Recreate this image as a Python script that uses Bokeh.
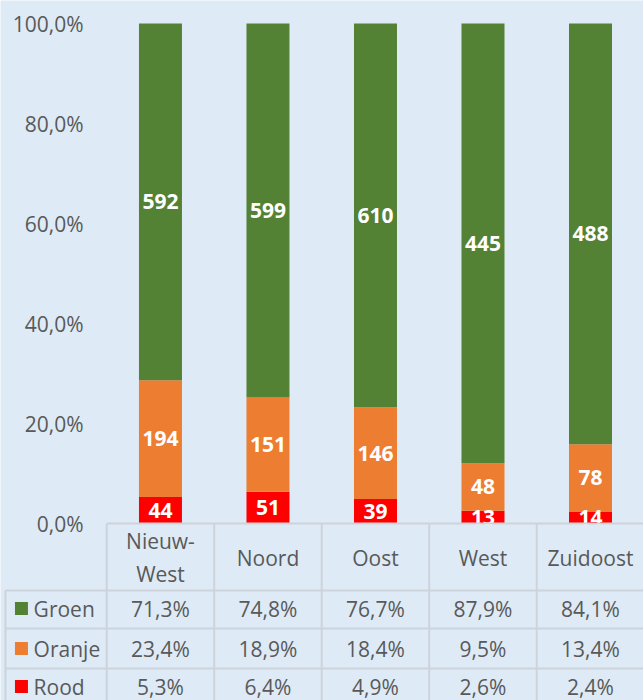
from bokeh.plotting import figure
from bokeh.models import Range1d
from bokeh.embed import file_html
from bokeh.resources import INLINE
from bokeh.core.properties import value

# ---------------- data ----------------
districts = ["Nieuw-\nWest", "Noord", "Oost", "West", "Zuidoost"]
series = ["Groen", "Oranje", "Rood"]
groen_n = [592, 599, 610, 445, 488]
oranje_n = [194, 151, 146, 48, 78]
rood_n = [44, 51, 39, 13, 14]
groen_pct = [71.3, 74.8, 76.7, 87.9, 84.1]
oranje_pct = [23.4, 18.9, 18.4, 9.5, 13.4]
rood_pct = [5.3, 6.4, 4.9, 2.6, 2.4]
y_ticks = [0, 20, 40, 60, 80, 100]

# ---------------- style ----------------
BG = "#DEEBF7"
GRAY = "#595959"
LINE = "#CDD3DA"
COLORS = {"Groen": "#548235", "Oranje": "#ED7D31", "Rood": "#FF0000"}
FONT = value("Open Sans")
FS = "21px"

n = len(districts)
xs = list(range(n))
totals = [g + o + r for g, o, r in zip(groen_n, oranje_n, rood_n)]
rood_s = [r / t * 100 for r, t in zip(rood_n, totals)]
oranje_s = [o / t * 100 for o, t in zip(oranje_n, totals)]
groen_s = [g / t * 100 for g, t in zip(groen_n, totals)]

p = figure(width=643, height=700,
           x_range=Range1d(-1.488, 4.493), y_range=Range1d(-35.4, 104.6),
           x_axis_type=None, y_axis_type=None,
           output_backend="svg", toolbar_location=None, min_border=0,
           background_fill_color=BG, border_fill_color=BG, outline_line_color=None)
p.grid.visible = False

# stacked bars
b0 = [0] * n
b1 = rood_s
b2 = [a + b for a, b in zip(rood_s, oranje_s)]
t2 = [a + b for a, b in zip(b2, groen_s)]
W = 0.4
p.vbar(x=xs, bottom=b0, top=b1, width=W, fill_color=COLORS["Rood"], line_color=None)
p.vbar(x=xs, bottom=b1, top=b2, width=W, fill_color=COLORS["Oranje"], line_color=None)
p.vbar(x=xs, bottom=b2, top=t2, width=W, fill_color=COLORS["Groen"], line_color=None)

# value labels
lab_x, lab_y, lab_t = [], [], []
for bot, top, cnt in ((b0, b1, rood_n), (b1, b2, oranje_n), (b2, t2, groen_n)):
    for i in range(n):
        lab_x.append(i)
        lab_y.append((bot[i] + top[i]) / 2)
        lab_t.append(str(cnt[i]))
p.text(x=lab_x, y=lab_y, text=lab_t, text_align="center", text_baseline="middle",
       text_color="white", text_font=FONT, text_font_style="bold", text_font_size=FS)

# y tick labels
p.text(x=[-0.716] * len(y_ticks), y=y_ticks,
       text=[f"{t:.1f}".replace(".", ",") + "%" for t in y_ticks],
       text_align="right", text_baseline="middle", text_color=GRAY,
       text_font=FONT, text_font_size=FS)

# data table
row_lines = [-13.4, -21.0, -29.0]
row_centers = [-17.0, -25.0, -32.6]
left_x = -1.442
bottom_y = -40
x0s, y0s, x1s, y1s = [], [], [], []
x0s.append(-0.5); y0s.append(0); x1s.append(n - 0.5); y1s.append(0)
for ry in row_lines:
    x0s.append(left_x); y0s.append(ry); x1s.append(n - 0.5); y1s.append(ry)
for i in range(n + 1):
    x0s.append(i - 0.5); y0s.append(0); x1s.append(i - 0.5); y1s.append(bottom_y)
x0s.append(left_x); y0s.append(row_lines[0]); x1s.append(left_x); y1s.append(bottom_y)
p.segment(x0=x0s, y0=y0s, x1=x1s, y1=y1s, line_color=LINE, line_width=2)

# header category labels
p.text(x=xs, y=[-6.8] * n, text=districts, text_align="center", text_baseline="middle",
       text_color=GRAY, text_font=FONT, text_font_size=FS, text_line_height=1.2)

# legend keys + series names
p.scatter(x=[-1.293] * 3, y=row_centers, marker="square", size=13,
          fill_color=[COLORS[s] for s in series], line_color=None)
p.text(x=[-1.18] * 3, y=row_centers, text=series, text_align="left", text_baseline="middle",
       text_color=GRAY, text_font=FONT, text_font_size=FS)

# percentage cells
cx, cy, ct = [], [], []
for rc, vals in zip(row_centers, (groen_pct, oranje_pct, rood_pct)):
    for i, v in enumerate(vals):
        cx.append(i); cy.append(rc); ct.append(f"{v:.1f}".replace(".", ",") + "%")
p.text(x=cx, y=cy, text=ct, text_align="center", text_baseline="middle",
       text_color=GRAY, text_font=FONT, text_font_size=FS)

open("out.html", "w").write(file_html(p, INLINE))
